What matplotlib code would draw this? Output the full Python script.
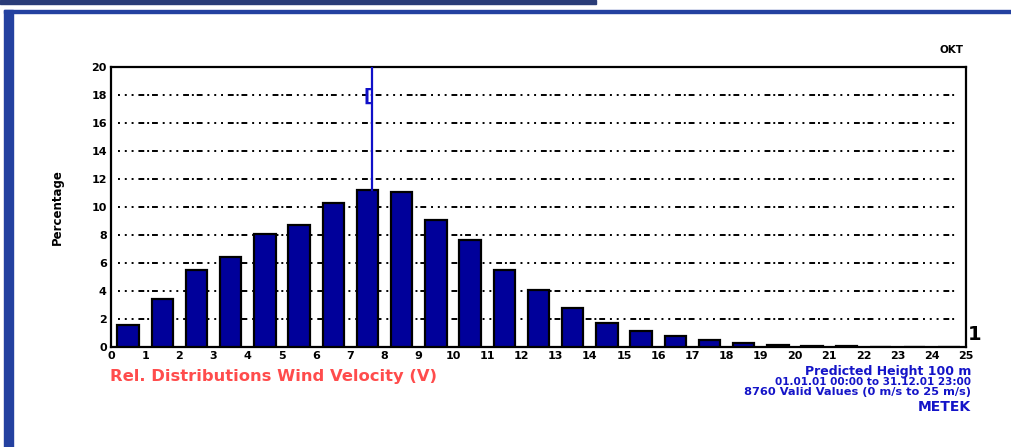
import matplotlib
matplotlib.use("Agg")
import matplotlib.pyplot as plt
from matplotlib.patches import Rectangle
import numpy as np

# Wind speed bins (m/s) and relative frequency (%) per 1 m/s class
bin_start = list(range(0, 25))
percentage = [1.6, 3.45, 5.5, 6.4, 8.1, 8.7, 10.25, 11.2, 11.05, 9.05,
              7.65, 5.5, 4.05, 2.8, 1.72, 1.12, 0.8, 0.47, 0.3, 0.13,
              0.1, 0.1, 0.0, 0.0, 0.0]
mean_speed = 7.63
x_ticks = list(range(0, 26))
y_ticks = list(range(0, 21, 2))

bar_color = "#00009a"
frame_blue = "#2441a0"

fig = plt.figure(figsize=(10.11, 4.47), dpi=100)

# Page frame: top band, thin rule and thick left bar
fig.patches.append(Rectangle((0, 1 - 4 / 447), 596 / 1011, 4 / 447,
                             transform=fig.transFigure, color="#2a3c78", zorder=0))
fig.patches.append(Rectangle((4 / 1011, 1 - 13 / 447), 1 - 4 / 1011, 3 / 447,
                             transform=fig.transFigure, color=frame_blue, zorder=0))
fig.patches.append(Rectangle((4 / 1011, 0), 9 / 1011, 1 - 10 / 447,
                             transform=fig.transFigure, color=frame_blue, zorder=0))

ax = fig.add_axes([111 / 1011, 1 - 347 / 447, 855 / 1011, 280 / 447])
ax.set_xlim(0, 25)
ax.set_ylim(0, 20)

centers = np.array(bin_start) + 0.5
ax.bar(centers, percentage, width=0.62, color=bar_color,
       edgecolor="black", linewidth=1.6, zorder=3)

# Horizontal dotted grid
for y in y_ticks[1:-1]:
    ax.plot([0.2, 24.75], [y, y], color="black", linewidth=1.4,
            dashes=(1, 2.5, 1, 2.5, 1, 2.5, 3, 1.5, 1, 1.5, 3, 2.5), zorder=1)

# Mean wind speed marker
top_bin = int(mean_speed)
ax.plot([mean_speed, mean_speed], [percentage[top_bin], 20], color="#1010c8",
        linewidth=1.6, zorder=4)
ax.text(mean_speed - 0.02, 17.9, "[", color="#1010c8", fontsize=13,
        fontweight="bold", ha="right", va="center", zorder=5)

ax.set_xticks(x_ticks)
ax.set_xticklabels([str(v) for v in x_ticks], fontsize=8, fontweight="bold")
ax.set_yticks(y_ticks)
ax.set_yticklabels([str(v) for v in y_ticks], fontsize=8, fontweight="bold")
ax.tick_params(length=0, pad=3)
for s in ax.spines.values():
    s.set_linewidth(1.6)

ax.set_ylabel("Percentage", fontsize=8.5, fontweight="bold", labelpad=20)

fig.text(975 / 1011, 1 - 334 / 447, "1", fontsize=14, fontweight="bold",
         ha="center", va="center")
fig.text(952 / 1011, 1 - 50 / 447, "OKT", fontsize=7.5, fontweight="bold",
         ha="center", va="center")

fig.text(110 / 1011, 1 - 377 / 447, "Rel. Distributions Wind Velocity (V)",
         color="#ff4c4c", fontsize=11.8, fontweight="bold", ha="left", va="center")

info_blue = "#1414c8"
fig.text(971 / 1011, 1 - 372 / 447, "Predicted Height 100 m", color=info_blue,
         fontsize=9, fontweight="bold", ha="right", va="center")
fig.text(971 / 1011, 1 - 382 / 447, "01.01.01 00:00 to 31.12.01 23:00",
         color=info_blue, fontsize=7.5, fontweight="bold", ha="right", va="center")
fig.text(971 / 1011, 1 - 392 / 447, "8760 Valid Values (0 m/s to 25 m/s)",
         color=info_blue, fontsize=8.2, fontweight="bold", ha="right", va="center")
fig.text(971 / 1011, 1 - 407 / 447, "METEK", color=info_blue, fontsize=10,
         fontweight="bold", ha="right", va="center")

fig.savefig("out.png", dpi=100)
